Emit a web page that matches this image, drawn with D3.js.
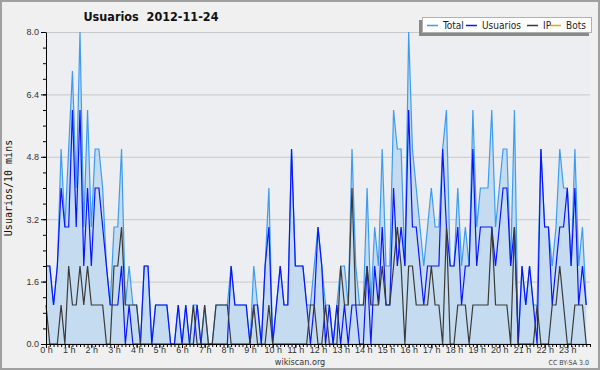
<!DOCTYPE html>
<html lang="es">
<head>
<meta charset="utf-8">
<title>Usuarios 2012-11-24</title>
<script src="https://d3js.org/d3.v7.min.js"></script>
<style>
    html, body { margin: 0; padding: 0; background: #f0f0f0; }
    svg { display: block; font-family: "DejaVu Sans Condensed", "DejaVu Sans", sans-serif; }
    .tick text { fill: #333; font-size: 9px; }
    .domain { stroke: #000; }
    .grid line { stroke: #c8c8c8; }
</style>
</head>
<body>
<div id="chart"></div>
<script>
    const W = 600, H = 370;

    // valores cada 10 minutos (144 puntos)
    const total = [
        2,2,1,2,5,3,5,7,4,8,3,6,3,5,5,4,2,
        1,3,3,5,1,2,1,1,0,2,2,0,1,1,1,1,0,0,1,
        0,1,0,1,1,0,1,0,0,1,1,1,1,2,1,1,1,1,0,
        2,1,0,2,4,0,1,2,1,1,5,2,2,2,1,1,2,
        3,2,1,1,0,1,2,2,1,5,2,1,1,4,1,3,2,5,2,2,
        6,5,5,2,8,5,4,3,2,3,4,3,3,5,6,2,2,4,
        2,3,2,6,3,4,4,4,6,3,4,5,5,2,6,0,2,1,2,
        1,1,5,3,3,2,3,5,4,4,2,5,2,3,1
    ];
    const usuarios = [
        2,2,1,2,4,3,3,6,3,6,2,4,2,4,4,3,2,
        1,1,1,2,0,1,0,0,0,2,2,0,1,1,1,1,0,0,1,
        0,1,0,0,1,0,0,0,0,0,0,0,0,2,1,1,1,1,0,
        1,1,0,2,3,0,1,2,1,1,5,2,2,2,1,0,1,
        3,2,0,1,0,1,0,1,0,1,1,0,0,2,0,2,1,3,1,1,
        4,2,3,2,6,3,3,2,1,2,2,2,2,5,3,2,2,3,
        1,2,2,5,2,3,3,3,3,2,3,4,4,2,3,0,2,1,2,
        1,0,5,3,3,1,2,3,3,4,2,4,1,2,1
    ];
    const ip = [
        1,0,0,0,1,0,2,1,1,2,1,2,1,1,1,1,0,
        0,2,2,3,1,1,1,1,0,0,0,0,0,0,0,0,0,0,0,
        0,0,0,1,0,0,1,0,0,1,1,1,1,0,0,0,0,0,0,
        1,0,0,0,1,0,0,0,0,0,0,0,0,0,0,1,1,
        0,0,1,0,0,0,2,1,1,4,1,1,1,2,1,1,1,2,1,1,
        2,3,2,0,2,2,1,1,1,1,2,1,1,0,3,0,0,1,
        1,1,0,1,1,1,1,1,3,1,1,1,1,0,3,0,0,0,0,
        0,1,0,0,0,1,1,2,1,0,0,1,1,1,0
    ];
    const bots = new Array(144).fill(0);

    const yTicks = [0, 1.6, 3.2, 4.8, 6.4, 8.0];
    const hours = d3.range(0, 24);
    const series = [
        { name: "Total", values: total, color: "#3d9cf0" },
        { name: "Usuarios", values: usuarios, color: "#0a14ff" },
        { name: "IP", values: ip, color: "#3a3a3a" },
        { name: "Bots", values: bots, color: "#ff9d00" }
    ];

    const pLeft = 46, pRight = 590, pTop = 32, pBottom = 344;

    const svg = d3.select("#chart").append("svg")
        .attr("width", W).attr("height", H);

    // marco
    svg.append("rect").attr("x", 1).attr("y", 1).attr("width", W - 2).attr("height", H - 2)
        .attr("fill", "#f0f0f0").attr("stroke", "#a0a0a0").attr("stroke-width", 2);
    svg.append("rect").attr("x", pLeft).attr("y", pTop).attr("width", pRight - pLeft).attr("height", pBottom - pTop)
        .attr("fill", "#eceef1");

    const x = d3.scaleLinear().domain([0, 144]).range([pLeft, pRight]);
    const y = d3.scaleLinear().domain([0, 8]).range([pBottom, pTop]);

    // rejilla
    svg.append("g").attr("class", "grid")
        .selectAll("line").data(yTicks.slice(1)).join("line")
        .attr("x1", pLeft).attr("x2", pRight)
        .attr("y1", d => y(d) + 0.5).attr("y2", d => y(d) + 0.5);

    // area + lineas
    const area = d3.area().x((d, i) => x(i)).y0(y(0)).y1(d => y(d));
    svg.append("path").datum(total).attr("d", area).attr("fill", "#c5dcf0");

    const line = d3.line().x((d, i) => x(i)).y(d => y(d));
    [series[3], series[0], series[1], series[2]].forEach(s => {
        svg.append("path").datum(s.values).attr("d", line)
            .attr("fill", "none").attr("stroke", s.color).attr("stroke-width", 1.2);
    });

    // eje y
    const minorY = d3.range(0, 8.01, 0.4);
    svg.append("g").attr("transform", `translate(${pLeft},0)`)
        .call(d3.axisLeft(y).tickValues(minorY).tickSize(3).tickFormat(""))
        .call(g => g.select(".domain").remove());
    svg.append("g").attr("transform", `translate(${pLeft},0)`)
        .call(d3.axisLeft(y).tickValues(yTicks).tickSize(5).tickSizeOuter(0).tickFormat(d3.format(".1f")))
        .call(g => g.selectAll(".tick text").attr("dx", "1"));

    // eje x
    svg.append("g").attr("transform", `translate(0,${pBottom})`)
        .call(d3.axisBottom(x).tickValues(d3.range(0, 145)).tickSize(3).tickFormat(""))
        .call(g => g.select(".domain").remove());
    svg.append("g").attr("transform", `translate(0,${pBottom})`)
        .call(d3.axisBottom(x).tickValues(hours.map(h => h * 6)).tickSize(4).tickSizeOuter(0)
            .tickFormat(d => (d / 6) + " h"))
        .call(g => g.selectAll(".tick text").attr("y", 2.5));

    // titulo y textos
    svg.append("text").attr("x", 151).attr("y", 21).attr("text-anchor", "middle")
        .attr("font-size", 12.5).attr("font-weight", "bold").attr("fill", "#111")
        .attr("xml:space", "preserve").text("Usuarios  2012-11-24");

    svg.append("text").attr("transform", `translate(12,${(pTop + pBottom) / 2}) rotate(-90)`)
        .attr("text-anchor", "middle").attr("font-family", "DejaVu Sans Mono")
        .attr("font-size", 10).attr("fill", "#111").text("Usuarios/10 mins");

    svg.append("text").attr("x", 300).attr("y", 365).attr("text-anchor", "middle")
        .attr("font-size", 9).attr("fill", "#333").text("wikiscan.org");
    svg.append("text").attr("x", 589).attr("y", 365).attr("text-anchor", "end")
        .attr("font-size", 7).attr("fill", "#444").text("CC BY-SA 3.0");

    // leyenda
    const lg = svg.append("g");
    lg.append("rect").attr("x", 419).attr("y", 20).attr("width", 170).attr("height", 16).attr("fill", "#8a8a8a");
    lg.append("rect").attr("x", 422.5).attr("y", 17.5).attr("width", 169).attr("height", 15)
        .attr("fill", "#fff").attr("stroke", "#b0b0b0");
    const lx = [427, 466, 527, 550];
    series.forEach((s, i) => {
        lg.append("line").attr("x1", lx[i]).attr("x2", lx[i] + 11).attr("y1", 25.5).attr("y2", 25.5)
            .attr("stroke", s.color).attr("stroke-width", 1.5);
        lg.append("text").attr("x", lx[i] + 16).attr("y", 29).attr("font-size", 10)
            .attr("fill", "#222").text(s.name);
    });
</script>
</body>
</html>
